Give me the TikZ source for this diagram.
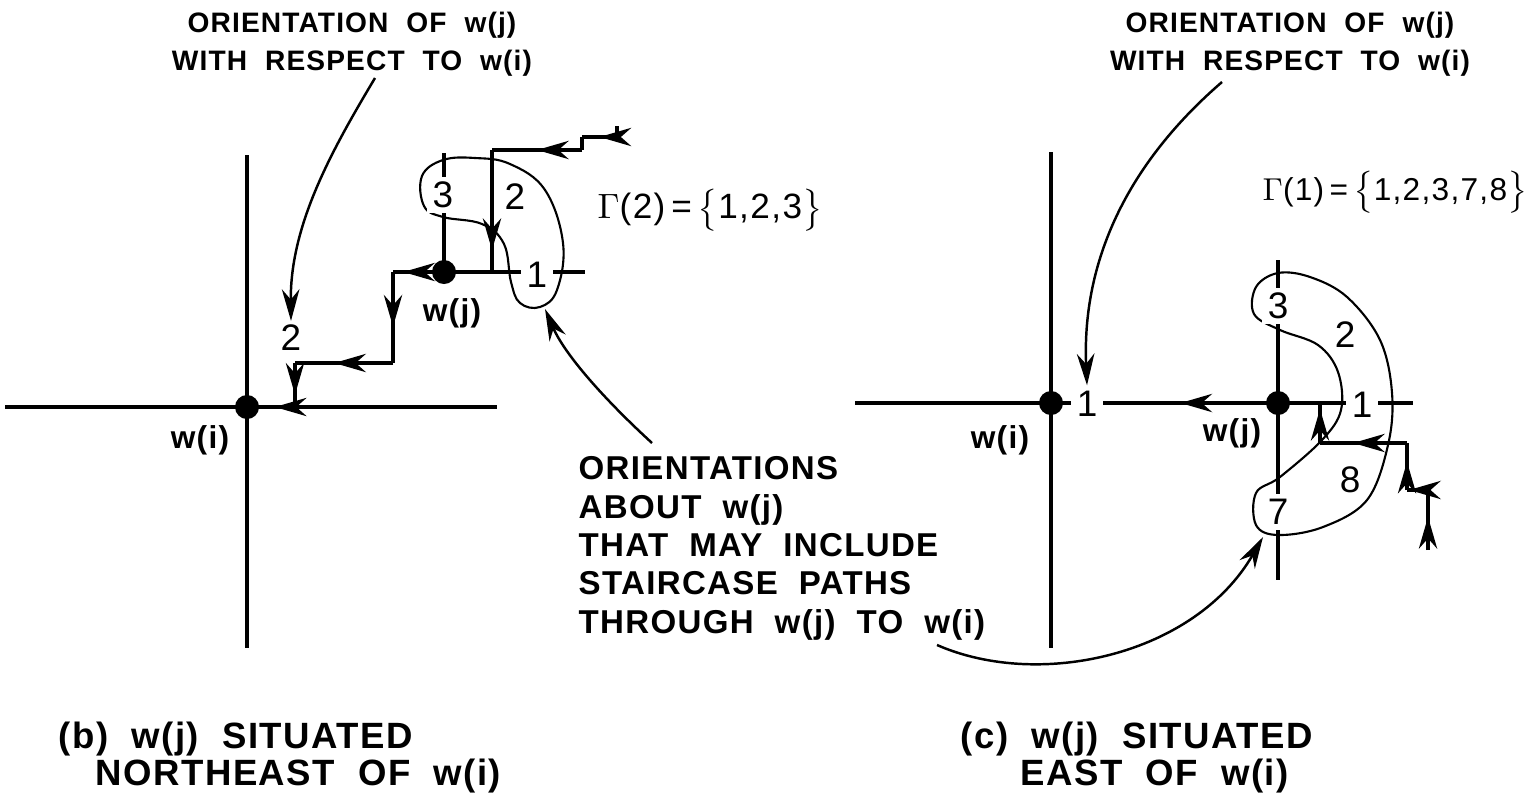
\documentclass[tikz,border=0pt]{standalone}
\usepackage{fontspec}
\usetikzlibrary{arrows.meta,decorations.markings}
\newfontfamily\lettering{Liberation Sans}[LetterSpace=4.0,WordSpace=2.0]

\tikzset{
  axis/.style={line width=0.9pt},
  blob/.style={line width=0.6pt},
  stair/.style={line width=0.9pt},
  ptr/.style={line width=0.7pt, -{Stealth[length=9pt,width=5pt]}},
  midarr/.style={postaction={decorate}, decoration={markings,
      mark=at position #1 with {\arrow{Stealth[length=9pt,width=5.2pt]}}}},
  midarr/.default=0.5,
  dot/.style={circle, fill=black, inner sep=0pt, minimum size=0.24cm},
  txt/.style={font=\lettering\bfseries\fontsize{8}{10}\selectfont, inner sep=0pt},
  lab/.style={font=\lettering\bfseries\fontsize{9}{11}\selectfont, inner sep=0pt},
  num/.style={font=\lettering\fontsize{10.5}{12}\selectfont, inner sep=1pt},
  gap/.style={num, fill=white, inner sep=1.5pt},
  capt/.style={font=\lettering\bfseries\fontsize{10.4}{12}\selectfont, inner sep=0pt, anchor=base west},
}

\begin{document}
\begin{tikzpicture}[x=0.01cm, y=-0.01cm]
  \useasboundingbox (0,0) rectangle (1540,797);

  % (b) w(j) northeast of w(i)
  \coordinate (wiB) at (247,407);
  \coordinate (wjB) at (444,272);
  \draw[axis] (247,155) -- (247,648);
  \draw[axis] (5,407) -- (497,407);
  \draw[axis] (wjB) -- (444,153);
  \draw[axis] (wjB) -- (585,272);

  % orientations 1, 2, 3 about w(j)
  \draw[blob] plot[smooth cycle, tension=0.65] coordinates {(443,160) (422,176) (424,206) (443,217)
    (482,224) (504,244) (511,282) (520,303) (540,307) (557,290) (563,243) (545,190)
    (510,164) (475,158)};

  % staircase path into w(i)
  \coordinate (s0) at (617,126);
  \coordinate (s1) at (617,137);
  \coordinate (s2) at (582,137);
  \coordinate (s3) at (582,150);
  \coordinate (s4) at (492,150);
  \coordinate (s5) at (492,272);
  \coordinate (s6) at (393,272);
  \coordinate (s7) at (393,363);
  \coordinate (s8) at (295,363);
  \coordinate (s9) at (295,407);
  \draw[stair] (s0) -- (s1);
  \draw[stair, midarr=0.5] (s1) -- (s2);
  \draw[stair] (s2) -- (s3);
  \draw[stair, midarr=0.5] (s3) -- (s4);
  \draw[stair, midarr=0.82] (s4) -- (s5);
  \draw[stair, midarr=0.8] (wjB) -- (s6);
  \draw[stair, midarr=0.6] (s6) -- (s7);
  \draw[stair, midarr=0.6] (s7) -- (s8);
  \draw[stair, midarr=0.72] (s8) -- (s9);
  \draw[stair, midarr=0.42] (s9) -- (wiB);

  \node[dot] (dotiB) at (wiB) {};
  \node[dot] (dotjB) at (wjB) {};
  \node[gap] (b3) at (443,195) {3};
  \node[num] (b2) at (515,197) {2};
  \node[gap] (b1) at (537,275) {1};
  \node[num] (bo2) at (291,338) {2};
  \node[lab] (lwiB) at (200,440) {w(i)};
  \node[lab] (lwjB) at (452,313) {w(j)};
  \node[lab, anchor=west, font=\lettering\fontsize{10}{12}\selectfont] (gamB) at (597,210)
    {$\Gamma$(2)\,=\,$\bigl\{$1,2,3$\bigr\}$};

  \node[txt, anchor=base] (topB1) at (352,32) {ORIENTATION OF w(j)};
  \node[txt, anchor=base] (topB2) at (352,70) {WITH RESPECT TO w(i)};
  \coordinate (pB) at (375,78);
  \draw[ptr] (pB) .. controls (332,150) and (290,225) .. (bo2.north);

  % text in the middle
  \node[txt, anchor=north west, align=left, font=\lettering\bfseries\fontsize{9.4}{10.9}\selectfont]
    (mid) at (578,456) {ORIENTATIONS\\ABOUT w(j)\\THAT MAY INCLUDE\\STAIRCASE PATHS\\THROUGH w(j) TO w(i)};
  \coordinate (pM) at (652,443);
  \coordinate (eM) at (545,309);
  \draw[ptr] (pM) .. controls (605,400) and (565,355) .. (eM);

  % (c) w(j) east of w(i)
  \coordinate (wiC) at (1051,403);
  \coordinate (wjC) at (1278,403);
  \draw[axis] (1051,152) -- (1051,648);
  \draw[axis] (855,403) -- (1413,403);
  \draw[axis] (1278,260) -- (1278,580);

  % orientations 1, 2, 3, 7, 8 about w(j)
  \draw[blob] plot[smooth cycle, tension=0.6] coordinates {(1278,273) (1256,287) (1254,314) (1280,330)
    (1318,345) (1338,372) (1341,410) (1322,440) (1280,477) (1256,493) (1256,525) (1278,535)
    (1323,527) (1367,500) (1388,445) (1392,393) (1380,340) (1347,297) (1310,277)};

  % staircase path into w(j)
  \coordinate (t0) at (1428,550);
  \coordinate (t1) at (1428,490);
  \coordinate (t2) at (1407,490);
  \coordinate (t3) at (1407,443);
  \coordinate (t4) at (1320,443);
  \coordinate (t5) at (1320,403);
  \draw[stair, midarr=0.55] (t0) -- (t1);
  \draw[stair, midarr=0.9] (t1) -- (t2);
  \draw[stair, midarr=0.6] (t2) -- (t3);
  \draw[stair, midarr=0.62] (t3) -- (t4);
  \draw[stair, midarr=0.85] (t4) -- (t5);
  \draw[stair, midarr=0.43] (wjC) -- (wiC);

  \node[dot] (dotiC) at (wiC) {};
  \node[dot] (dotjC) at (wjC) {};
  \node[gap] (c3) at (1278,306) {3};
  \node[num] (c2) at (1345,335) {2};
  \node[gap] (c1) at (1362,405) {1};
  \node[num] (c8) at (1350,480) {8};
  \node[gap] (c7) at (1278,512) {7};
  \node[gap] (co1) at (1087,404) {1};
  \node[lab] (lwiC) at (1000,440) {w(i)};
  \node[lab] (lwjC) at (1232,433) {w(j)};
  \node[lab, anchor=west, font=\lettering\fontsize{9}{11}\selectfont] (gamC) at (1262,192)
    {$\Gamma$(1)\,=\,$\bigl\{$1,2,3,7,8$\bigr\}$};

  \node[txt, anchor=base] (topC1) at (1290,32) {ORIENTATION OF w(j)};
  \node[txt, anchor=base] (topC2) at (1290,70) {WITH RESPECT TO w(i)};
  \coordinate (pC) at (1222,82);
  \draw[ptr] (pC) .. controls (1120,170) and (1082,270) .. (co1.north);
  \coordinate (pT) at (937,645);
  \coordinate (eT) at (1263,537);
  \draw[ptr] (pT) .. controls (1040,690) and (1195,655) .. (eT);

  % captions
  \node[capt] (capB1) at (58,748) {(b) w(j) SITUATED};
  \node[capt] (capB2) at (95,785) {NORTHEAST OF w(i)};
  \node[capt] (capC1) at (960,748) {(c) w(j) SITUATED};
  \node[capt] (capC2) at (1020,785) {EAST OF w(i)};
\end{tikzpicture}
\end{document}
